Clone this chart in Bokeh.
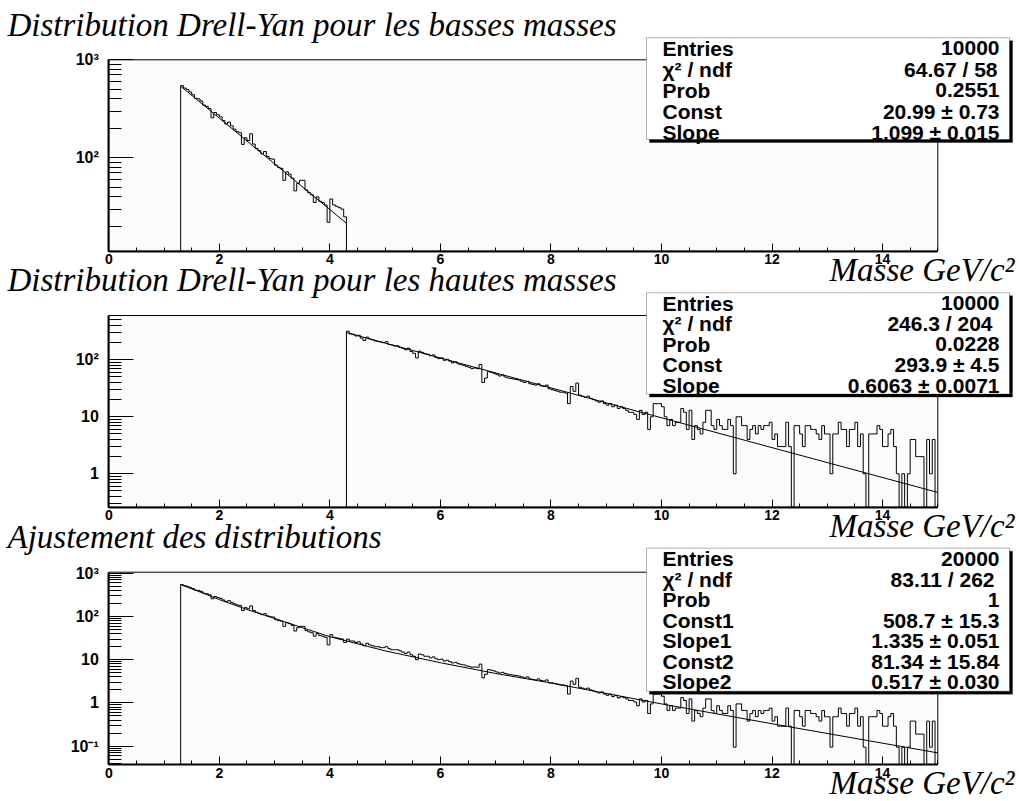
import numpy as np
from bokeh.plotting import figure
from bokeh.models import (FixedTicker, Range1d, Label, BoxAnnotation, LinearAxis,
                          LogAxis, LogScale)
from bokeh.embed import file_html
from bokeh.resources import INLINE

# ---------------- data ----------------
BIN_WIDTH = 0.05

# low-mass histogram (1.30 -> 4.30)
low_start = 1.3
low_counts = [545, 515, 498, 470, 440, 405, 400, 380, 345, 335,
              318, 256, 290, 275, 262, 240, 221, 232, 212, 196,
              185, 180, 137, 160, 150, 176, 138, 125, 118, 110,
              116, 103, 98, 97, 84, 80, 78, 59, 72, 68,
              62, 46, 55, 59, 59, 47, 44, 42, 35, 40,
              36, 35, 33, 22, 38, 33, 32, 31, 30, 25]

# high-mass histogram (4.30 -> 15.00)
high_start = 4.3
high_counts = [318, 285, 280, 262, 270, 240, 218, 250, 232, 225,
               215, 210, 205, 200, 208, 185, 182, 175, 176, 165,
               158, 150, 160, 140, 130, 108, 142, 135, 128, 125,
               118, 122, 110, 105, 108, 98, 102, 95, 88, 92,
               85, 82, 80, 76, 74, 70, 72, 70, 83, 40,
               48, 62, 60, 58, 55, 52, 54, 50, 48, 47,
               46, 45, 44, 42, 40, 42, 38, 37, 36, 38,
               35, 34, 36, 31, 30, 29, 28, 27, 27, 26,
               17, 34, 28, 39, 24, 23, 22, 23, 21, 20,
               19, 18, 19, 17, 16, 17, 15, 16, 14, 15,
               14, 13, 12, 12, 11, 9, 13, 11, 12, 6,
               10, 17, 17, 17, 15, 10, 7, 9, 7, 8,
               8, 14, 12, 6, 13, 4, 7, 6, 5, 8,
               13, 13, 7, 6, 9, 7, 6, 6, 9, 7,
               1, 10, 10, 7, 7, 4, 6, 7, 5, 7,
               6, 7, 7, 8, 4, 5, 3, 3, 3, 8,
               3, 0, 7, 7, 5, 3, 7, 7, 6, 6,
               5, 4, 7, 5, 5, 1, 5, 5, 8, 6,
               6, 3, 6, 6, 8, 3, 5, 1, 0, 5,
               5, 5, 7, 6, 3, 3, 5, 6, 3, 1,
               0, 1, 0, 1, 4, 4, 2, 2, 2, 0,
               4, 1, 4, 0]

# combined histogram (1.30 -> 15.00)
comb_start = 1.3
comb_counts = [545, 515, 498, 470, 440, 405, 400, 380, 345, 335,
               318, 256, 290, 275, 262, 240, 221, 232, 212, 196,
               185, 180, 137, 160, 150, 176, 138, 125, 118, 110,
               116, 103, 98, 97, 84, 80, 78, 59, 72, 68,
               62, 46, 55, 59, 59, 47, 44, 42, 35, 40,
               36, 35, 33, 22, 38, 33, 32, 31, 30, 25,
               30, 27, 27, 25, 26, 23, 21, 24, 22, 21,
               20, 20, 19, 19, 20, 18, 17, 17, 17, 16,
               15, 14, 15, 13, 12, 10, 13.5, 13, 12, 12,
               11, 11.6, 10.5, 10, 10.3, 9.3, 9.7, 9, 8.4, 8.7,
               8.1, 7.8, 7.6, 7.2, 7, 6.7, 6.8, 6.7, 7.9, 3.8,
               4.6, 5.9, 5.7, 5.5, 5.2, 4.9, 5.1, 4.8, 4.6, 4.5,
               4.4, 4.3, 4.2, 4, 3.8, 4, 3.6, 3.5, 3.4, 3.6,
               3.3, 3.2, 3.4, 2.9, 2.9, 2.8, 2.7, 2.6, 2.6, 2.5,
               1.6, 3.2, 2.7, 3.7, 2.3, 2.2, 2.1, 2.2, 2, 1.9,
               1.8, 1.7, 1.8, 1.6, 1.5, 1.6, 1.4, 1.5, 1.3, 1.4,
               1.33, 1.24, 1.14, 1.14, 1.05, 0.86, 1.24, 1.05, 1.14, 0.57,
               0.95, 1.6, 1.6, 1.6, 1.43, 0.95, 0.67, 0.86, 0.67, 0.76,
               0.76, 1.33, 1.14, 0.57, 1.24, 0.38, 0.67, 0.57, 0.48, 0.76,
               1.24, 1.24, 0.67, 0.57, 0.86, 0.67, 0.57, 0.57, 0.86, 0.67,
               0.095, 0.95, 0.95, 0.67, 0.67, 0.38, 0.57, 0.67, 0.48, 0.67,
               0.57, 0.67, 0.67, 0.76, 0.38, 0.48, 0.29, 0.29, 0.29, 0.76,
               0.29, 0, 0.67, 0.67, 0.48, 0.29, 0.67, 0.67, 0.57, 0.57,
               0.48, 0.38, 0.67, 0.48, 0.48, 0.095, 0.48, 0.48, 0.76, 0.57,
               0.57, 0.29, 0.57, 0.57, 0.76, 0.29, 0.48, 0.095, 0, 0.48,
               0.48, 0.48, 0.67, 0.57, 0.29, 0.29, 0.48, 0.57, 0.29, 0.095,
               0, 0.095, 0, 0.095, 0.38, 0.38, 0.19, 0.19, 0.19, 0,
               0.38, 0.095, 0.38, 0]

# fitted curves
fit_low_x = [1.3, 4.3]
fit_low_y = [538, 21.5]
fit_high_x = [4.3, 15.0]
fit_high_y = [300, 0.47]
fit_comb_x = [1.3, 1.6, 2.0, 2.5, 3.0, 3.5, 4.0, 5.0, 6.0, 7.0, 8.0, 10.0, 12.0, 15.0]
fit_comb_y = [545, 390, 245, 145, 90, 55, 34, 16, 8.5, 4.8, 2.9, 0.95, 0.33, 0.07]

titles = ["Distribution Drell-Yan pour les basses masses",
          "Distribution Drell-Yan pour les hautes masses",
          "Ajustement des distributions"]
x_title = "Masse GeV/c\u00b2"

x_limits = (0, 15)
x_tick_values = [0, 2, 4, 6, 8, 10, 12, 14]
y_limits_low = (11.15, 1000)
y_ticks_low = [100, 1000]
y_labels_low = ["10\u00b2", "10\u00b3"]
y_limits_high = (0.259, 599)
y_ticks_high = [1, 10, 100]
y_labels_high = ["1", "10", "10\u00b2"]
y_limits_comb = (0.0377, 1055)
y_ticks_comb = [0.1, 1, 10, 100, 1000]
y_labels_comb = ["10\u207b\u00b9", "1", "10", "10\u00b2", "10\u00b3"]

stats_low = [("Entries", "10000"), ("\u03c7\u00b2 / ndf", "64.67 / 58"), ("Prob", "0.2551"),
             ("Const", "20.99 \u00b1 0.73"), ("Slope", "1.099 \u00b1 0.015")]
stats_high = [("Entries", "10000"), ("\u03c7\u00b2 / ndf", "246.3 / 204"), ("Prob", "0.0228"),
              ("Const", "293.9 \u00b1 4.5"), ("Slope", "0.6063 \u00b1 0.0071")]
stats_comb = [("Entries", "20000"), ("\u03c7\u00b2 / ndf", "83.11 / 262"), ("Prob", "1"),
              ("Const1", "508.7 \u00b1 15.3"), ("Slope1", "1.335 \u00b1 0.051"),
              ("Const2", "81.34 \u00b1 15.84"), ("Slope2", "0.517 \u00b1 0.030")]

# ---------------- layout (canvas pixels) ----------------
W, H = 1019, 801
FRAME_LEFT, FRAME_RIGHT = 108.3, 937.3
FRAME_BG = "#fbfbfb"
INK = "black"
SANS = "Liberation Sans"
SERIF = "Liberation Serif"
TITLE_SIZE = 33
STAT_SIZE = 21

px_per_unit = (FRAME_RIGHT - FRAME_LEFT) / (x_limits[1] - x_limits[0])
x_start = x_limits[0] - FRAME_LEFT / px_per_unit
x_end = x_limits[0] + (W - FRAME_LEFT) / px_per_unit


def full_log_range(lo, hi, top, bottom):
    dpx = (bottom - top) / np.log10(hi / lo)
    return Range1d(lo * 10 ** (-(H - bottom) / dpx), hi * 10 ** (top / dpx))


def log_minors(lo, hi):
    out = []
    for k in range(-3, 5):
        for m in range(2, 10):
            v = m * 10.0 ** k
            if lo <= v <= hi:
                out.append(v)
    return out


panels = [
    dict(name="default", counts=low_counts, start=low_start, fx=fit_low_x, fy=fit_low_y,
         lim=y_limits_low, ticks=y_ticks_low, labels=y_labels_low, title=titles[0],
         stats=stats_low, top=59.3, bottom=250.7, box=(37.3, 139.0),
         rows=[47.5, 68.5, 89.5, 110.5, 131.5], chi_shift=-2),
    dict(name="high", counts=high_counts, start=high_start, fx=fit_high_x, fy=fit_high_y,
         lim=y_limits_high, ticks=y_ticks_high, labels=y_labels_high, title=titles[1],
         stats=stats_high, top=315.0, bottom=506.7, box=(292.3, 393.5),
         rows=[302.5, 323.0, 343.5, 364.0, 384.5], chi_shift=-7),
    dict(name="comb", counts=comb_counts, start=comb_start, fx=fit_comb_x, fy=fit_comb_y,
         lim=y_limits_comb, ticks=y_ticks_comb, labels=y_labels_comb, title=titles[2],
         stats=stats_comb, top=571.7, bottom=764.0, box=(547.7, 690.7),
         rows=[558.0, 578.5, 599.0, 619.5, 640.0, 660.5, 681.0], chi_shift=-5),
]

p = figure(width=W, height=H, x_range=Range1d(x_start, x_end),
           y_range=full_log_range(*panels[0]["lim"], panels[0]["top"], panels[0]["bottom"]),
           y_axis_type="log", x_axis_location=None, y_axis_location=None,
           min_border=0, output_backend="svg", toolbar_location=None,
           outline_line_color=None, background_fill_color="white",
           border_fill_color="white")
p.extra_y_ranges = {pp["name"]: full_log_range(*pp["lim"], pp["top"], pp["bottom"])
                    for pp in panels[1:]}
p.extra_y_scales = {pp["name"]: LogScale() for pp in panels[1:]}
for g in p.grid:
    g.visible = False
p.renderers = [r for r in p.renderers if r.__class__.__name__ != "Grid"]
p.center = [r for r in p.center if r.__class__.__name__ != "Grid"]


def sy(page_y):
    """canvas y (from top) -> screen units (from frame bottom)"""
    return H - page_y


def style_axis(ax, tick_in, minor_in, size, standoff):
    ax.major_tick_in, ax.major_tick_out = tick_in, 0
    ax.minor_tick_in, ax.minor_tick_out = minor_in, 0
    ax.axis_line_width = 2
    ax.axis_line_color = INK
    ax.major_tick_line_color = INK
    ax.minor_tick_line_color = INK
    ax.major_label_standoff = standoff
    ax.major_label_text_font = SANS
    ax.major_label_text_font_style = "bold"
    ax.major_label_text_font_size = size
    ax.major_label_text_color = INK


for pp in panels:
    kw = {"y_range_name": pp["name"]}
    lo, hi = pp["lim"]
    # frame
    p.quad(left=[x_limits[0]], right=[x_limits[1]], bottom=[lo], top=[hi],
           fill_color=FRAME_BG, line_color=INK, line_width=1, **kw)
    # histogram outline
    counts = pp["counts"]
    n = len(counts)
    edges = pp["start"] + BIN_WIDTH * np.arange(n + 1)
    vals = np.maximum(np.array(counts, dtype=float), lo)
    xs = np.repeat(edges, 2)
    ys = np.concatenate([[lo], np.repeat(vals, 2), [lo]])
    p.line(xs, ys, line_color=INK, line_width=1, **kw)
    # fit
    p.line(pp["fx"], pp["fy"], line_color=INK, line_width=1, **kw)

    xa = LinearAxis(fixed_location=lo, bounds=x_limits,
                    ticker=FixedTicker(ticks=x_tick_values,
                                       minor_ticks=[0.5 * i for i in range(31)]), **kw)
    style_axis(xa, 8, 4, "14px", 3)
    p.add_layout(xa, "below")

    ya = LogAxis(fixed_location=x_limits[0], bounds=(lo, hi),
                 ticker=FixedTicker(ticks=pp["ticks"], minor_ticks=log_minors(lo, hi)), **kw)
    ya.major_label_overrides = {t: l for t, l in zip(pp["ticks"], pp["labels"])}
    style_axis(ya, 25, 13, "16px", 10)
    p.add_layout(ya, "left")

    # title (baseline ~24 px above the frame)
    p.add_layout(Label(x=7, y=sy(pp["top"] - 24 - 0.34 * TITLE_SIZE), x_units="screen",
                       y_units="screen", text=pp["title"], text_font=SERIF,
                       text_font_style="italic", text_font_size=f"{TITLE_SIZE}px",
                       text_color=INK, text_baseline="middle", text_align="left"))
    # x-axis title (baseline ~30 px below the frame)
    p.add_layout(Label(x=1014, y=sy(pp["bottom"] + 30 - 0.34 * TITLE_SIZE), x_units="screen",
                       y_units="screen", text=x_title, text_font=SERIF,
                       text_font_style="italic", text_font_size=f"{TITLE_SIZE}px",
                       text_color=INK, text_baseline="middle", text_align="right"))

    # stats box with shadow
    bt, bb = pp["box"]
    p.add_layout(BoxAnnotation(left=649, right=1012, top=sy(bt + 3), bottom=sy(bb + 3),
                               left_units="screen", right_units="screen",
                               top_units="screen", bottom_units="screen",
                               fill_color=INK, fill_alpha=1, line_color=INK,
                               level="overlay"))
    p.add_layout(BoxAnnotation(left=646, right=1009, top=sy(bt), bottom=sy(bb),
                               left_units="screen", right_units="screen",
                               top_units="screen", bottom_units="screen",
                               fill_color="white", fill_alpha=1, line_color=INK,
                               line_width=1, level="overlay"))
    for k, ((name, val), ry) in enumerate(zip(pp["stats"], pp["rows"])):
        shift = pp["chi_shift"] if k == 1 else 0
        p.add_layout(Label(x=662, y=sy(ry), x_units="screen", y_units="screen", text=name,
                           text_font=SANS, text_font_style="bold",
                           text_font_size=f"{STAT_SIZE}px", text_color=INK,
                           text_baseline="middle", text_align="left", level="overlay"))
        p.add_layout(Label(x=999 + shift, y=sy(ry), x_units="screen", y_units="screen",
                           text=val, text_font=SANS, text_font_style="bold",
                           text_font_size=f"{STAT_SIZE}px", text_color=INK,
                           text_baseline="middle", text_align="right", level="overlay"))

open("out.html", "w").write(file_html(p, INLINE))
